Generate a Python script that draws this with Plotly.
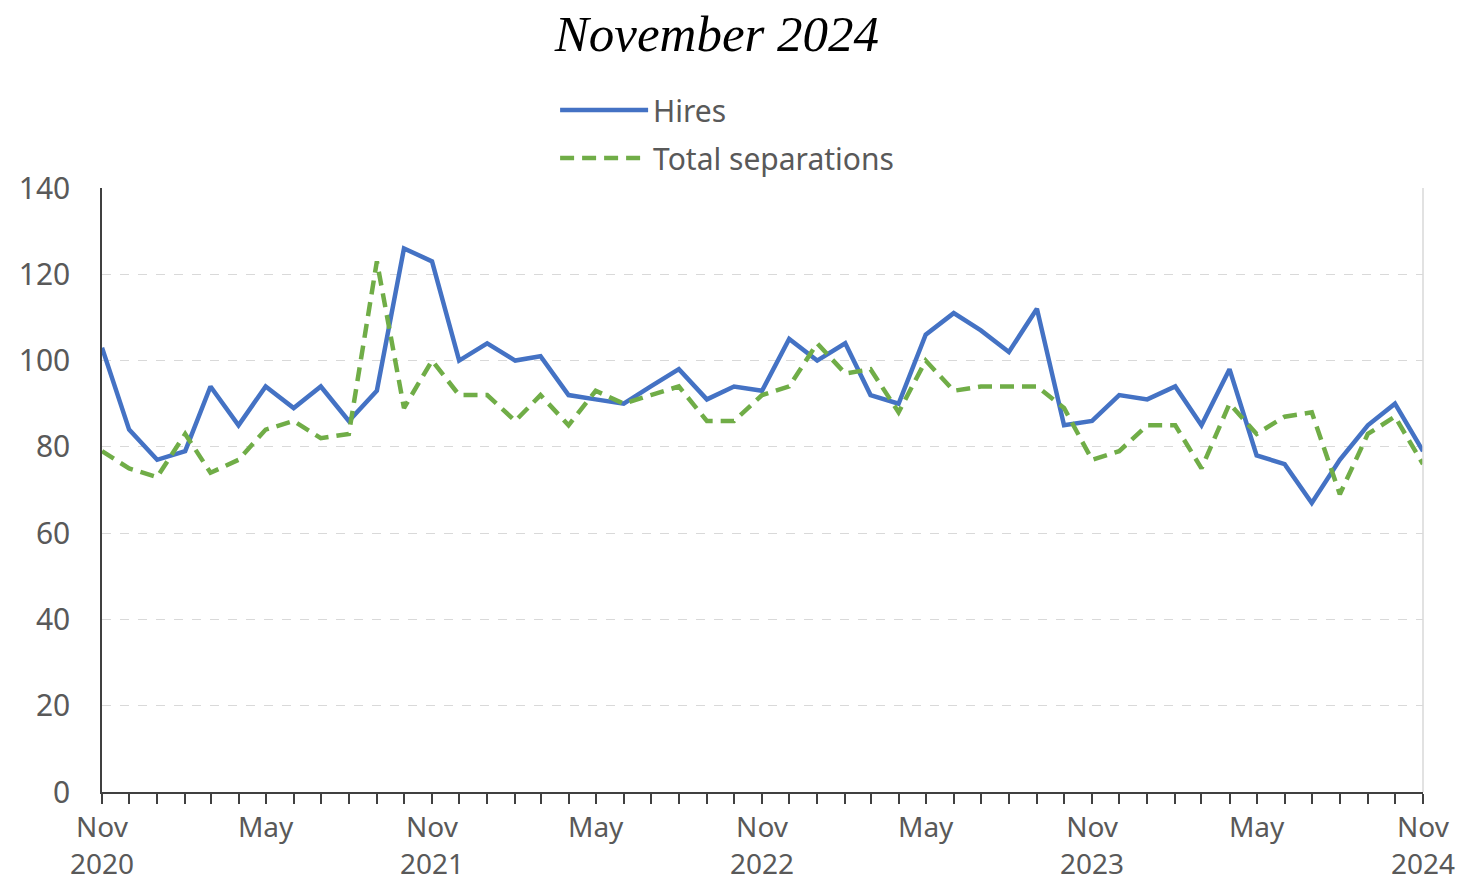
import pandas as pd
import plotly.graph_objects as go

months = pd.date_range("2020-11-01", periods=49, freq="MS")

hires = [103, 84, 77, 79, 94, 85, 94, 89, 94, 86, 93, 126, 123,
         100, 104, 100, 101, 92, 91, 90, 94, 98, 91, 94, 93,
         105, 100, 104, 92, 90, 106, 111, 107, 102, 112, 85, 86,
         92, 91, 94, 85, 98, 78, 76, 67, 77, 85, 90, 79]

separations = [79, 75, 73, 83, 74, 77, 84, 86, 82, 83, 123, 89, 100,
               92, 92, 86, 92, 85, 93, 90, 92, 94, 86, 86, 92,
               94, 104, 97, 98, 88, 100, 93, 94, 94, 94, 89, 77,
               79, 85, 85, 75, 90, 83, 87, 88, 69, 83, 87, 76]

tick_text = []
for d in months:
    if d.month == 11:
        tick_text.append(f"Nov<br>{d.year}")
    elif d.month == 5:
        tick_text.append("May")
    else:
        tick_text.append("")

fig = go.Figure()

fig.add_trace(go.Scatter(
    x=months, y=hires, name="Hires", mode="lines", legendgroup="h",
    line=dict(color="#4472C4", width=4.5)
))

fig.add_trace(go.Scatter(
    x=months, y=separations, name="Total separations", mode="lines",
    legendgroup="s",
    line=dict(color="#70AD47", width=4.5, dash="14px,8px")
))

fig.update_layout(
    width=1473, height=883,
    paper_bgcolor="white", plot_bgcolor="white",
    margin=dict(l=94, r=58, t=180, b=99),
    font=dict(family="Noto Sans", size=30, color="#595959"),
    title=dict(
        text="<i>November 2024</i>",
        font=dict(family="Liberation Serif", size=51, color="black"),
        x=0.4813, xref="container", xanchor="center",
        y=0.972, yref="container", yanchor="middle"
    ),
    legend=dict(
        x=0.343, y=1.172, xanchor="left", yanchor="top",
        orientation="v", bgcolor="rgba(0,0,0,0)",
        font=dict(size=30, color="#595959"),
        itemwidth=88, tracegroupgap=6
    ),
    showlegend=True
)

fig.update_xaxes(
    tickmode="array", tickvals=months, ticktext=tick_text,
    range=[months[0], months[-1]], automargin=False,
    tickfont=dict(size=28),
    showgrid=False, showline=True, linecolor="#404040", linewidth=1.5,
    ticks="outside", ticklen=10, tickcolor="#404040", tickwidth=1.5,
    tickangle=0, zeroline=False
)

fig.update_yaxes(
    range=[0, 140], dtick=20, tick0=0, automargin=False,
    showgrid=True, gridcolor="#d9d9d9", griddash="dash", gridwidth=1,
    showline=True, linecolor="#404040", linewidth=1.5,
    ticks="", ticklabelstandoff=24, zeroline=False
)

fig.add_shape(type="line", xref="paper", yref="paper",
              x0=1, x1=1, y0=0, y1=1,
              line=dict(color="#d9d9d9", width=1.5))

fig.write_html("out.html")
